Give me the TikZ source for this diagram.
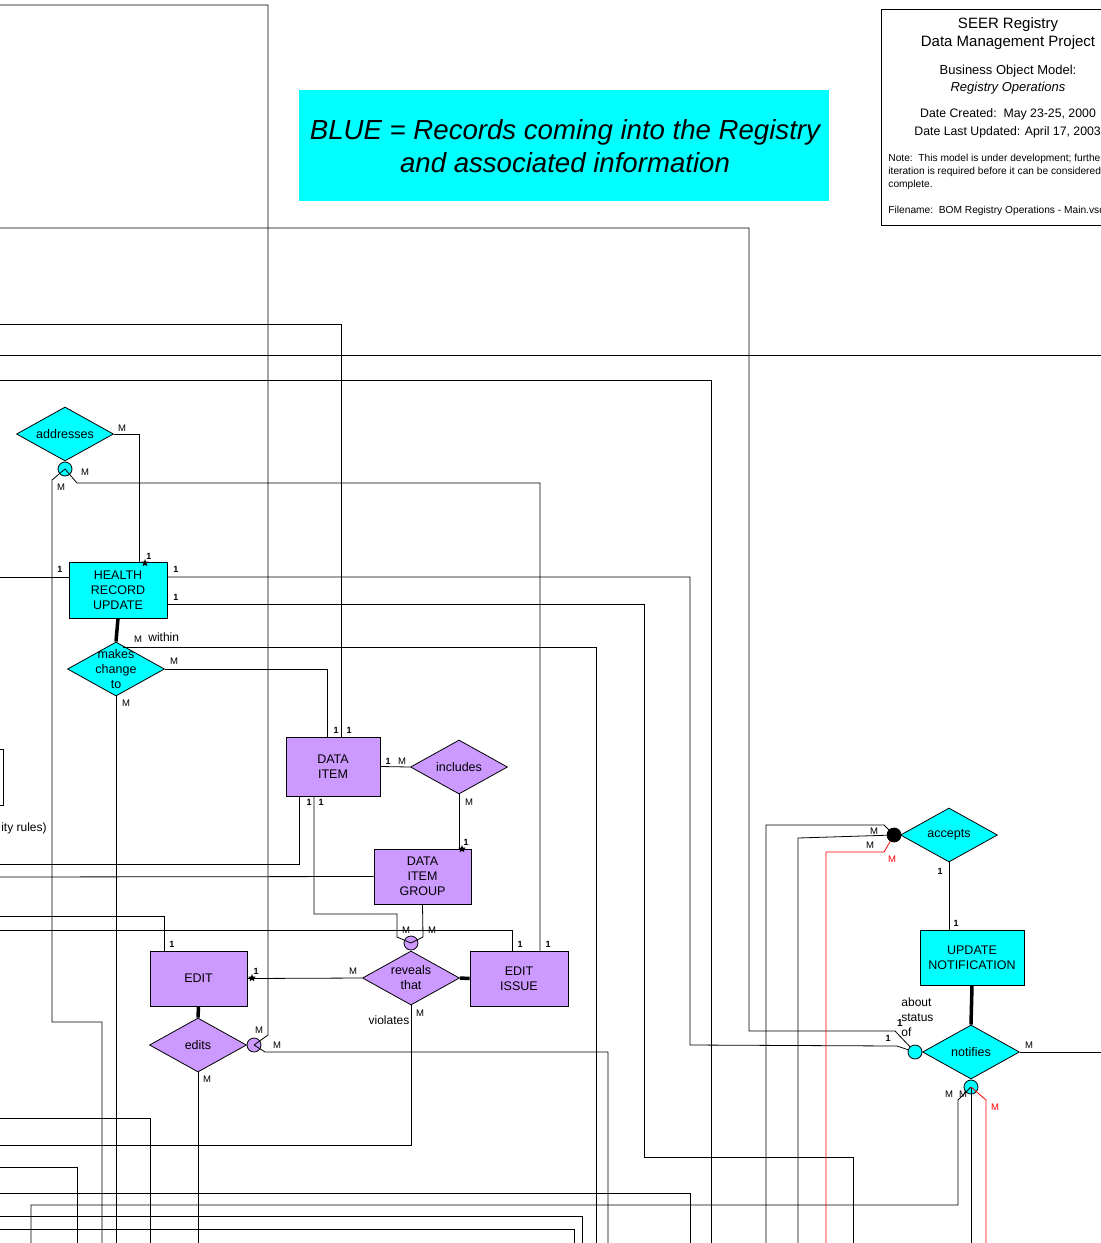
\documentclass[tikz,border=0pt]{standalone}
\usepackage{fontspec}
\setmainfont{Liberation Sans}
\usetikzlibrary{shapes.geometric,calc}
\definecolor{erblue}{RGB}{0,255,255}
\definecolor{erpurple}{RGB}{204,153,255}
\definecolor{ered}{RGB}{255,0,0}
\begin{document}
\begin{tikzpicture}[x=1pt,y=-1pt,line width=0.8pt,
  ent/.style={draw,rectangle,inner sep=0pt,align=center,font=\fontsize{12.5}{15}\selectfont},
  rel/.style={draw,diamond,inner sep=0pt,minimum width=97pt,minimum height=54pt},
  reltext/.style={align=center,inner sep=0pt,font=\fontsize{12.5}{15}\selectfont},
  circ/.style={draw,circle,inner sep=0pt,minimum size=14pt},
  card/.style={inner sep=0pt,font=\fontsize{9.5}{10}\selectfont},
  one/.style={inner sep=0pt,font=\fontsize{9}{10}\selectfont\bfseries},
  txt/.style={inner sep=0pt,font=\fontsize{12}{14}\selectfont},
  thick line/.style={line width=3.5pt},
  starmark/.style={star,star points=5,star point ratio=2.4,fill=black,inner sep=0pt,minimum size=8pt},
  rl/.style={draw=ered}
]
\useasboundingbox (0,0) rectangle (1101,1243);
\clip (0,0) rectangle (1101,1243);

% ---------- title block ----------
\draw (881,9) rectangle (1120,225);
\node[inner sep=0pt,font=\fontsize{15}{16}\selectfont] (t1) at (1008,25) {SEER Registry};
\node[inner sep=0pt,font=\fontsize{15}{16}\selectfont] (t2) at (1008,43) {Data Management Project};
\node[inner sep=0pt,font=\fontsize{13}{14}\selectfont] (t3) at (1008,71) {Business Object Model:};
\node[inner sep=0pt,font=\fontsize{13}{14}\selectfont\itshape] (t4) at (1008,88) {Registry Operations};
\node[inner sep=0pt,font=\fontsize{12.3}{14}\selectfont] (t5) at (1008,114) {Date Created:\ \ May 23-25, 2000};
\node[inner sep=0pt,font=\fontsize{12.3}{14}\selectfont,anchor=west] (t6) at (914,132) {Date Last Updated: April 17, 2003};
\node[inner sep=0pt,font=\fontsize{10.2}{13}\selectfont,anchor=north west,align=left] (t7) at (888,154) {Note:\ \ This model is under development; further\\iteration is required before it can be considered\\complete.};
\node[inner sep=0pt,font=\fontsize{10.2}{12}\selectfont,anchor=west] (t8) at (888,211) {Filename:\ \ BOM Registry Operations - Main.vsd};

% ---------- legend ----------
\node[fill=erblue,minimum width=530pt,minimum height=111pt,inner sep=0pt] (legend) at (564,145.5) {};
\node[inner sep=0pt,font=\fontsize{27.6}{33.5}\selectfont\itshape,align=center] (legendtxt) at (565,146) {BLUE = Records coming into the Registry\\and associated information};

% ---------- partial box at left ----------
\draw (-20,749) rectangle (3,805);
\node[txt,anchor=east] (rules) at (47,828) {ity rules)};

% ---------- entities ----------
\node[ent,fill=erblue,minimum width=98pt,minimum height=56pt] (hru) at (118,590) {HEALTH\\RECORD\\UPDATE};
\node[ent,fill=erpurple,minimum width=94pt,minimum height=59pt] (di) at (333,766.5) {DATA\\ITEM};
\node[ent,fill=erpurple,minimum width=97pt,minimum height=55pt] (dig) at (422.5,876.5) {DATA\\ITEM\\GROUP};
\node[ent,fill=erpurple,minimum width=97pt,minimum height=55pt] (ed) at (198.5,978.5) {EDIT};
\node[ent,fill=erpurple,minimum width=98pt,minimum height=55pt] (eis) at (519,978.5) {EDIT\\ISSUE};
\node[ent,fill=erblue,minimum width=104pt,minimum height=55pt] (un) at (972,957.5) {UPDATE\\NOTIFICATION};

% ---------- relationships ----------
\node[rel,fill=erblue] (adr) at (65,434) {};
\node[reltext] at (adr) {addresses};
\node[rel,fill=erblue] (mct) at (116,669) {};
\node[reltext] at (mct) {makes\\change\\to};
\node[rel,fill=erpurple] (inc) at (459,767) {};
\node[reltext] at (inc) {includes};
\node[rel,fill=erpurple] (rvt) at (411,978) {};
\node[reltext] at (rvt) {reveals\\that};
\node[rel,fill=erpurple] (eds) at (198,1045) {};
\node[reltext] at (eds) {edits};
\node[rel,fill=erblue] (acc) at (949,835) {};
\node[reltext] at (acc) {accepts};
\node[rel,fill=erblue] (ntf) at (971,1052) {};
\node[reltext] at (ntf) {notifies};

% ---------- junction circles ----------
\node[circ,fill=erblue] (adc) at (65,469) {};
\node[circ,fill=erpurple] (rvc) at (411,943) {};
\node[circ,fill=erpurple] (edc) at (254,1045) {};
\node[circ,fill=black] (acd) at (894,835) {};
\node[circ,fill=erblue] (ntc) at (915,1052) {};
\node[circ,fill=erblue] (nbc) at (971,1087) {};

% ---------- free ends ----------
\coordinate (e1) at (-5,5);
\coordinate (e2) at (-5,228);
\coordinate (e3) at (-5,324);
\coordinate (e4) at (-5,355);
\coordinate (e4r) at (1110,355);
\coordinate (e5) at (-5,380);
\coordinate (e6) at (-5,577);
\coordinate (e7) at (-5,864);
\coordinate (e8) at (-5,877);
\coordinate (e9) at (-5,916);
\coordinate (e10) at (-5,930);
\coordinate (e11) at (-5,1118);
\coordinate (e12) at (-5,1145);
\coordinate (e13) at (-5,1167);
\coordinate (e14) at (-5,1193);
\coordinate (e15) at (-5,1216);
\coordinate (e16) at (-5,1229);
\coordinate (e17) at (1110,1052);
\coordinate (wst) at (123,647);

% ---------- connectors ----------
\draw (e1) -| (268,1035) -- (edc.center);
\draw (e2) -| (749,1031) -- (895,1031) -- (ntc);
\draw (e3) -| ([xshift=8pt]di.north);
\draw (e4) -- (e4r);
\draw (e5) -| (711,1250);
\draw (adc.center) -- (77,483) -| ([xshift=21pt]eis.north);
\draw (adc.center) -- (52,480) |- (102,1022) -- (102,1250);
\draw (adr.east) -| ([xshift=21pt]hru.north);
\draw (e6) -- ([yshift=13pt]hru.west);
\draw ([yshift=13pt]hru.east) -| (690,1045) -- (897,1046) -- (ntc);
\draw ([yshift=-14pt]hru.east) -| (644,1157) -| (853,1250);
\draw[thick line] (hru.south) -- (mct.north);
\draw (wst) -| (596,1250);
\draw (mct.east) -| ([xshift=-6pt]di.north);
\draw (mct.south) -- (116,1250);
\draw (di.east) -- (inc.west);
\draw ([xshift=-34pt]di.south) |- (e7);
\draw ([xshift=-19pt]di.south) |- (397,914) -- (397,937) -- (rvc.center);
\draw (inc.south) -- (inc.south |- dig.north);
\draw (dig.west) -- (e8);
\draw (dig.south) -- (423,937) -- (rvc.center);
\draw (rvt.west) -- (ed.east);
\draw[thick line] (rvt.east) -- (eis.west);
\draw (rvt.south) |- (e12);
\draw ([xshift=-34.5pt]ed.north) |- (e9);
\draw ([xshift=-7pt]eis.north) |- (e10);
\draw[thick line] (ed.south) -- (eds.north);
\draw (eds.south) -- (198,1250);
\draw (edc.center) -- (265,1052) -| (608,1250);
\draw (e11) -| (150,1250);
\draw (e13) -| (77,1250);
\draw (e14) -| (690,1250);
\draw (31,1250) |- (958,1205) -- (958,1100) -- (nbc.center);
\draw (e15) -| (582,1250);
\draw (e16) -| (574,1250);
\draw (acd) -- (884,825) -| (766,1250);
\draw (acd) -- (798,838) -- (798,1250);
\draw[rl] (acd) -- (884,852) -| (826,1250);
\draw (acc.south) -- (acc.south |- un.north);
\draw[thick line] (un.south) -- (ntf.north);
\draw (ntf.east) -- (e17);
\draw (nbc.center) -- (971,1250);
\draw[rl] (nbc.center) -- (986,1100) -- (986,1250);

% ---------- star markers ----------
\node[starmark] (s1) at (145,563) {};
\node[starmark] (s2) at (462,849) {};
\node[starmark] (s3) at (252,978) {};

% ---------- cardinalities and role labels ----------
\node[card] at (122,428) {M};
\node[card] at (85,472) {M};
\node[card] at (61,487) {M};
\node[one] at (149,556) {1};
\node[one] at (60,569) {1};
\node[one] at (176,569) {1};
\node[one] at (176,597) {1};
\node[card] at (138,639) {M};
\node[txt,anchor=west] at (148,637) {within};
\node[card] at (174,661) {M};
\node[card] at (126,703) {M};
\node[one] at (336,730) {1};
\node[one] at (349,730) {1};
\node[one] at (388,761) {1};
\node[card] at (402,761) {M};
\node[card] at (469,802) {M};
\node[one] at (309,802) {1};
\node[one] at (321,802) {1};
\node[one] at (466,842) {1};
\node[card] at (406,930) {M};
\node[card] at (432,930) {M};
\node[one] at (172,944) {1};
\node[one] at (520,944) {1};
\node[one] at (548,944) {1};
\node[one] at (256,971) {1};
\node[card] at (353,971) {M};
\node[txt] at (389,1020) {violates};
\node[card] at (420,1013) {M};
\node[card] at (259,1030) {M};
\node[card] at (277,1045) {M};
\node[card] at (207,1079) {M};
\node[card] at (874,831) {M};
\node[card] at (870,845) {M};
\node[card,text=ered] at (892,859) {M};
\node[one] at (940,871) {1};
\node[one] at (956,923) {1};
\node[txt,anchor=north west,align=left,font=\fontsize{12}{15}\selectfont] at (901,997) {about\\status\\of};
\node[one,font=\fontsize{10}{10}\selectfont\bfseries] at (900,1023) {1};
\node[one] at (888,1038) {1};
\node[card] at (1029,1045) {M};
\node[card] at (949,1094) {M};
\node[card] at (963,1094) {M};
\node[card,text=ered] at (995,1107) {M};
\end{tikzpicture}
\end{document}
